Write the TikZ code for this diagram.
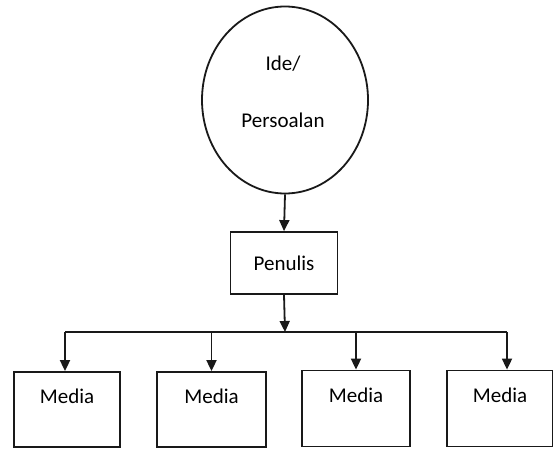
\documentclass[tikz,border=0pt]{standalone}
\usepackage{fontspec}
\setmainfont{Carlito}
\usetikzlibrary{shapes.geometric,arrows.meta}
\tikzset{
  ln/.style={line width=1.8pt, draw=black!90},
  arr/.style={ln, -{Triangle[width=10pt,length=11pt]}},
  box/.style={ln, rectangle, inner sep=0pt},
  txt/.style={font=\fontsize{21}{25}\selectfont},
}
\begin{document}
\begin{tikzpicture}[x=1pt,y=-1pt]
\useasboundingbox[fill=white] (0,0) rectangle (553,449);
\node[ln, ellipse, minimum width=166pt, minimum height=187pt, inner sep=0pt,
  label={[txt, align=center, yshift=8.5pt, xshift=-2pt]center:{Ide/\\[32pt]Persoalan}}] (ide) at (285,100) {};
\node[box, minimum width=107pt, minimum height=62pt, txt] (pen) at (284,263) {Penulis};
\coordinate (j) at (285,332);
\draw[arr] (ide.south) -- (pen.north);
\draw[arr] (pen.south) -- (j);
\node[box, minimum width=106pt, minimum height=75pt, label={[txt, yshift=13pt]center:Media}] (m1) at (67,409.5) {};
\node[box, minimum width=109pt, minimum height=75pt, label={[txt, yshift=13pt]center:Media}] (m2) at (211.5,409.5) {};
\node[box, minimum width=108pt, minimum height=76pt, label={[txt, yshift=13pt]center:Media}] (m3) at (356,408.5) {};
\node[box, minimum width=106pt, minimum height=76pt, label={[txt, yshift=13pt]center:Media}] (m4) at (500,408.5) {};
\coordinate (r4) at ([xshift=7pt]m4.north);
\draw[ln] ([xshift=-2pt]m1.north |- j) -- (r4 |- j);
\draw[arr] ([xshift=-2pt]m1.north |- j) -- ([xshift=-2pt]m1.north);
\draw[arr] (m2.north |- j) -- (m2.north);
\draw[arr] (m3.north |- j) -- (m3.north);
\draw[arr] (r4 |- j) -- (r4);
\end{tikzpicture}
\end{document}
